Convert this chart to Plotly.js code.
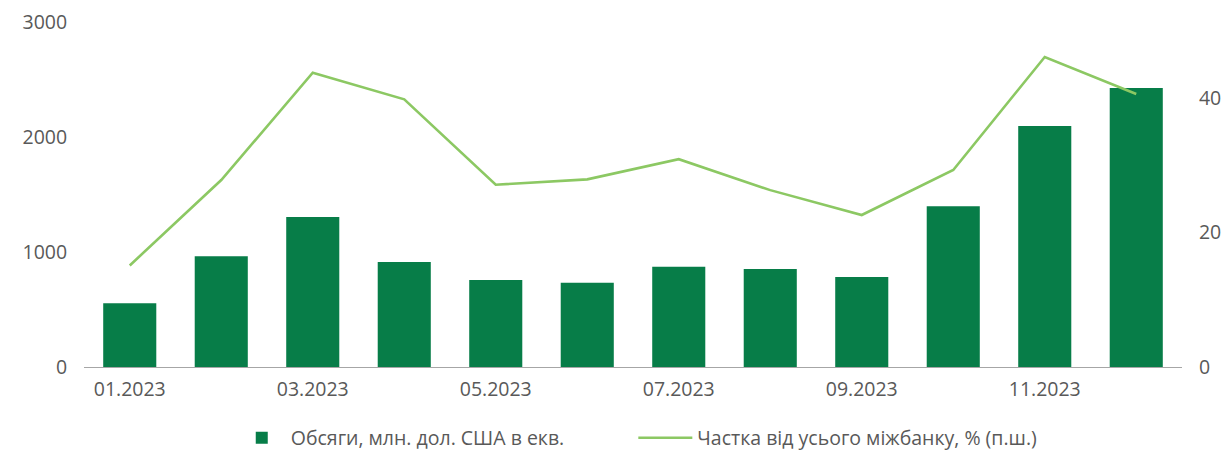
<!DOCTYPE html>
<html>
<head>
<meta charset="utf-8">
<script src="https://cdn.plot.ly/plotly-3.0.1.min.js"></script>
<style>
  html, body { margin: 0; padding: 0; background: #fff; }
  #chart { width: 1225px; height: 453px; }
</style>
</head>
<body>
<div id="chart"></div>
<script>
'use strict';

// months of 2023
const months = ['01.2023', '02.2023', '03.2023', '04.2023', '05.2023', '06.2023',
  '07.2023', '08.2023', '09.2023', '10.2023', '11.2023', '12.2023'];
const tickMonths = ['01.2023', '03.2023', '05.2023', '07.2023', '09.2023', '11.2023'];

// volumes, mln USD equiv. (left axis)
const volumes = [554, 963, 1304, 913, 757, 733, 872, 852, 783, 1397, 2096, 2426];
// share of whole interbank, % (right axis)
const share = [15.1, 27.8, 43.75, 39.8, 27.1, 27.9, 30.9, 26.3, 22.6, 29.3, 46.1, 40.6];

const barName = 'Обсяги, млн. дол. США в екв.';
const lineName = 'Частка від усього міжбанку, % (п.ш.)';

const tickFont = { family: 'Open Sans, sans-serif', size: 19.5, color: '#595959' };

const data = [{
  type: 'bar',
  x: months,
  y: volumes,
  name: barName,
  marker: { color: '#077d48' },
  yaxis: 'y',
  legend: 'legend',
}, {
  type: 'scatter',
  mode: 'lines',
  x: months,
  y: share,
  name: lineName,
  line: { color: '#8cc863', width: 2.6 },
  yaxis: 'y2',
  legend: 'legend2',
}];

// both legends share these settings, only x and item width differ
const legendBase = {
  orientation: 'h',
  xref: 'container',
  yref: 'container',
  xanchor: 'left',
  y: 0.076,
  yanchor: 'top',
  font: { family: 'Open Sans, sans-serif', size: 19.5, color: '#595959' },
};

const layout = {
  width: 1225,
  height: 453,
  margin: { l: 84, r: 43, t: 22, b: 86 },
  paper_bgcolor: '#fff',
  plot_bgcolor: '#fff',
  bargap: 0.42,
  showlegend: true,
  font: tickFont,
  xaxis: {
    type: 'category',
    tickvals: tickMonths,
    ticktext: tickMonths,
    showline: true,
    linecolor: '#a6a6a6',
    linewidth: 1,
    showgrid: false,
    zeroline: false,
    ticks: 'outside',
    ticklen: 5,
    tickcolor: 'rgba(0,0,0,0)',
    tickfont: tickFont,
  },
  yaxis: {
    range: [0, 3000],
    tickvals: [0, 1000, 2000, 3000],
    showgrid: false,
    zeroline: false,
    showline: false,
    ticks: 'outside',
    ticklen: 12,
    tickcolor: 'rgba(0,0,0,0)',
    tickfont: tickFont,
  },
  yaxis2: {
    overlaying: 'y',
    side: 'right',
    range: [0, 51.3],
    tickvals: [0, 20, 40],
    showgrid: false,
    zeroline: false,
    showline: false,
    ticks: 'outside',
    ticklen: 12,
    tickcolor: 'rgba(0,0,0,0)',
    tickfont: tickFont,
  },
  legend: Object.assign({}, legendBase, { x: 0.190, itemwidth: 48 }),
  legend2: Object.assign({}, legendBase, { x: 0.517, itemwidth: 54 }),
};

Plotly.newPlot('chart', data, layout, { displayModeBar: false, staticPlot: true });
</script>
</body>
</html>
